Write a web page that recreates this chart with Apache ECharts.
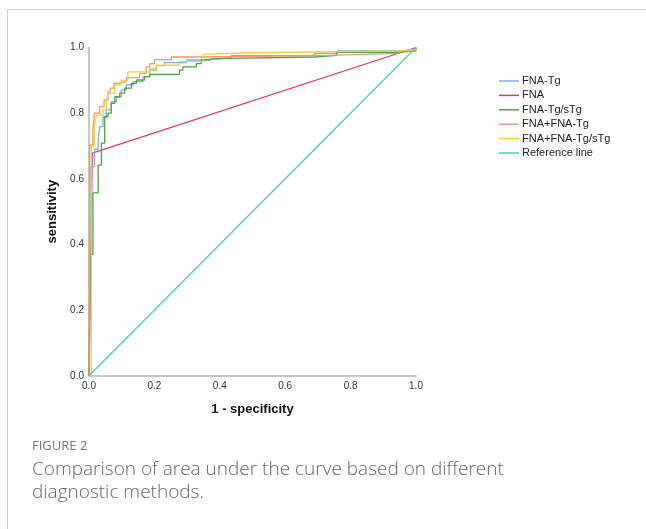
<!DOCTYPE html>
<html>
<head>
<meta charset="utf-8">
<script src="https://cdn.jsdelivr.net/npm/echarts@6/dist/echarts.min.js"></script>
<style>
  html, body { margin: 0; padding: 0; background: #fff; }
  #chart { width: 646px; height: 529px; }
</style>
</head>
<body>
<div id="chart"></div>
<script>
// ROC curves, [1 - specificity, sensitivity], top-left corners of each step
const seriesNames = ["FNA-Tg", "FNA", "FNA-Tg/sTg", "FNA+FNA-Tg", "FNA+FNA-Tg/sTg", "Reference line"];
const seriesColors = ["#7aaee4", "#e8375c", "#4ea342", "#f7936f", "#eed432", "#44d0c2"];

const fnaTg = [
  [0, 0], [0.004, 0.637], [0.017, 0.69], [0.028, 0.718], [0.033, 0.759], [0.043, 0.789],
  [0.053, 0.81], [0.068, 0.835], [0.084, 0.85], [0.099, 0.871], [0.114, 0.886],
  [0.135, 0.896], [0.165, 0.911], [0.186, 0.931], [0.206, 0.945], [0.231, 0.954],
  [0.298, 0.962], [0.339, 0.968], [0.435, 0.975], [0.69, 0.982], [0.76, 0.99],
  [0.96, 0.995], [1, 1]
];
const fna = [[0, 0], [0.01, 0.678], [1, 1]];
const fnaTgSTg = [
  [0, 0], [0.005, 0.37], [0.012, 0.557], [0.028, 0.642], [0.038, 0.709], [0.048, 0.789],
  [0.058, 0.8], [0.068, 0.83], [0.079, 0.85], [0.094, 0.861], [0.109, 0.876],
  [0.13, 0.891], [0.145, 0.901], [0.17, 0.911], [0.186, 0.918], [0.277, 0.931],
  [0.287, 0.941], [0.328, 0.951], [0.343, 0.962], [0.369, 0.966], [0.379, 0.971],
  [0.69, 0.976], [0.757, 0.985], [0.95, 0.99], [1, 1]
];
const fnaPlusTg = [
  [0, 0], [0.002, 0.703], [0.012, 0.749], [0.017, 0.8], [0.033, 0.82], [0.046, 0.84],
  [0.058, 0.865], [0.065, 0.876], [0.076, 0.891], [0.089, 0.896], [0.114, 0.908],
  [0.155, 0.921], [0.175, 0.941], [0.186, 0.951], [0.2, 0.963], [0.252, 0.971],
  [0.349, 0.977], [0.75, 0.982], [0.95, 0.99], [1, 1]
];
const fnaPlusTgSTg = [
  [0, 0], [0.007, 0.7], [0.017, 0.76], [0.023, 0.794], [0.043, 0.81], [0.053, 0.835],
  [0.058, 0.86], [0.079, 0.886], [0.099, 0.9], [0.119, 0.926], [0.186, 0.936],
  [0.206, 0.946], [0.277, 0.957], [0.349, 0.98], [0.379, 0.984], [0.491, 0.99],
  [0.95, 0.995], [1, 1]
];
const referenceLine = [[0, 0], [1, 1]];

const axisTicks = [0, 0.2, 0.4, 0.6, 0.8, 1.0];
const xTitle = "1 - specificity";
const yTitle = "sensitivity";
const captionLabel = "FIGURE 2";
const captionLines = ["Comparison of area under the curve based on different", "diagnostic methods."];

const allData = [fnaTg, fna, fnaTgSTg, fnaPlusTg, fnaPlusTgSTg, referenceLine];
const stepped = [true, false, true, true, true, false];

const chart = echarts.init(document.getElementById("chart"), null, { renderer: "canvas" });

const axisCommon = {
  type: "value",
  min: axisTicks[0],
  max: axisTicks[axisTicks.length - 1],
  interval: 0.2,
  axisLine: { show: true, lineStyle: { color: "#b4b4b4", width: 1.5 } },
  axisTick: { show: false },
  splitLine: { show: false },
  axisLabel: {
    color: "#333",
    fontSize: 10,
    fontFamily: "Liberation Sans",
    margin: 5,
    formatter: v => v.toFixed(1)
  },
  nameLocation: "middle",
  nameTextStyle: { color: "#111", fontSize: 13, fontWeight: "bold", fontFamily: "Liberation Sans" }
};

const option = {
  backgroundColor: "#fff",
  animation: false,
  grid: { left: 89, top: 47.5, width: 327, height: 328.3, containLabel: false },
  xAxis: Object.assign({}, axisCommon, { name: xTitle, nameGap: 27 }),
  yAxis: Object.assign({}, axisCommon, { name: yTitle, nameGap: 30 }),
  legend: {
    orient: "vertical",
    left: 494,
    top: 70.5,
    icon: "rect",
    itemWidth: 20,
    itemHeight: 1.5,
    itemGap: 3.4,
    textStyle: { color: "#222", fontSize: 11, fontFamily: "Liberation Sans", padding: [0, 0, 0, -2] },
    data: seriesNames
  },
  series: seriesNames.map((name, i) => ({
    name: name,
    type: "line",
    data: allData[i],
    step: stepped[i] ? "end" : false,
    symbol: "none",
    color: seriesColors[i],
    lineStyle: { color: seriesColors[i], width: 1.3 },
    z: i === 1 ? 1 : 2
  })),
  graphic: [
    { type: "line", shape: { x1: 7, y1: 9.5, x2: 646, y2: 9.5 }, style: { stroke: "#cfcfcf", lineWidth: 1 } },
    { type: "line", shape: { x1: 7.5, y1: 9, x2: 7.5, y2: 529 }, style: { stroke: "#cfcfcf", lineWidth: 1 } },
    {
      type: "text", left: 32, top: 440,
      style: { text: captionLabel, fill: "#777", font: "13px 'Open Sans'" }
    },
    {
      type: "text", left: 32, top: 458,
      style: { text: captionLines.join("\n"), fill: "#666", font: "300 19px 'Open Sans'", lineHeight: 23 }
    }
  ]
};

chart.setOption(option);
</script>
</body>
</html>
